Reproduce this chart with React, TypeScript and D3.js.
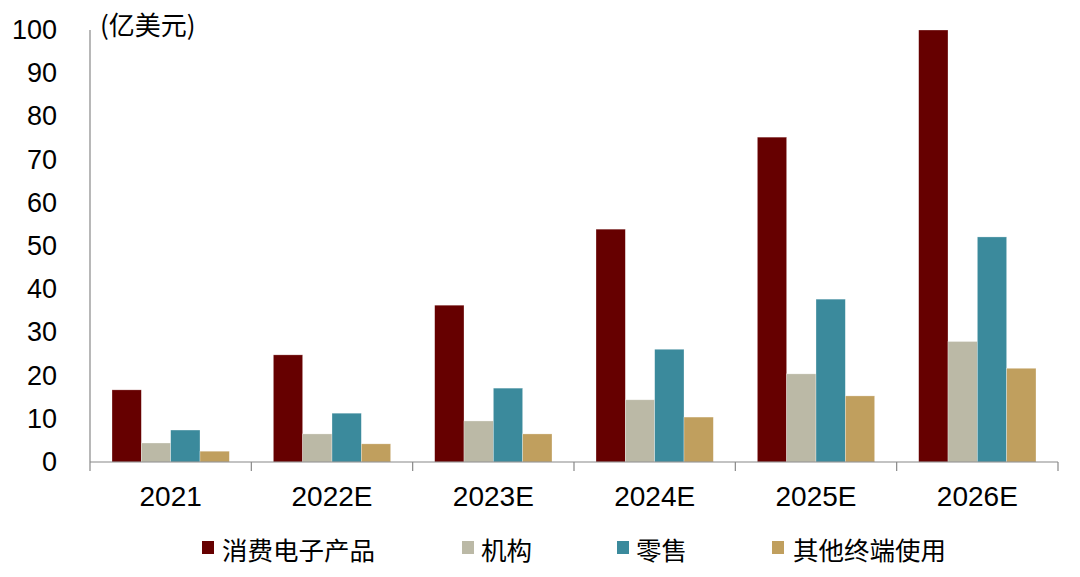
import React from "react";
import * as d3 from "d3";

const categories = ["2021", "2022E", "2023E", "2024E", "2025E", "2026E"];
const seriesNames = ["消费电子产品", "机构", "零售", "其他终端使用"];
const consumerElectronics = [16.7, 24.8, 36.3, 53.9, 75.2, 100];
const institutional = [4.4, 6.5, 9.5, 14.4, 20.4, 27.9];
const retail = [7.4, 11.3, 17.1, 26.1, 37.7, 52.1];
const otherEndUse = [2.5, 4.2, 6.5, 10.4, 15.3, 21.7];
const seriesValues = [consumerElectronics, institutional, retail, otherEndUse];
const colors = ["#660000", "#BBB9A6", "#3B8A9C", "#C09F5E"];
const yTicks = [0, 10, 20, 30, 40, 50, 60, 70, 80, 90, 100];
const unitLabel = "(亿美元)";

const W = 1080;
const H = 577;
const left = 90;
const right = 1058;
const top = 30;
const bottom = 462;
const FONT = "'Liberation Sans', Arial, 'Noto Sans CJK SC', sans-serif";
const CJK = "'Noto Sans CJK SC', 'Liberation Sans', sans-serif";

export default function App() {
  const x0 = d3.scaleBand<string>().domain(categories).range([left, right]).paddingInner(0).paddingOuter(0);
  const x1 = d3
    .scaleBand<string>()
    .domain(seriesNames)
    .range([0, x0.bandwidth()])
    .paddingInner(0)
    .paddingOuter(0.75);
  const y = d3.scaleLinear().domain([0, 100]).range([bottom, top]);

  const boundaries = categories.map((c) => x0(c) as number).concat([right]);
  const legendSquareX = [202, 462, 617, 772];
  const legendTextX = [222, 481, 636, 793];

  return (
    <svg
      width={W}
      height={H}
      style={{ position: "absolute", left: 0, top: 0, background: "#fff" }}
    >
      {/* bars */}
      {seriesNames.map((s, si) =>
        categories.map((c, ci) => {
          const v = seriesValues[si][ci];
          return (
            <rect
              key={s + c}
              x={(x0(c) as number) + (x1(s) as number)}
              y={y(v)}
              width={x1.bandwidth()}
              height={y(0) - y(v)}
              fill={colors[si]}
              stroke="#ffffff"
              strokeOpacity={0.5}
              strokeWidth={0.6}
            />
          );
        })
      )}
      {/* y axis */}
      <line x1={left} x2={left} y1={top} y2={bottom} stroke="#888" strokeWidth={1.2} />
      {yTicks.map((t) => (
        <text
          key={t}
          x={57}
          y={y(t)}
          textAnchor="end"
          dominantBaseline="central"
          fontFamily={FONT}
          fontSize={27}
          fill="#000"
        >
          {t}
        </text>
      ))}
      {/* x axis */}
      <line x1={left} x2={right} y1={bottom} y2={bottom} stroke="#888" strokeWidth={1.2} />
      {boundaries.map((b, i) => (
        <line key={i} x1={b} x2={b} y1={bottom} y2={bottom + 9} stroke="#888" strokeWidth={1.2} />
      ))}
      {categories.map((c) => (
        <text
          key={c}
          x={(x0(c) as number) + x0.bandwidth() / 2}
          y={496}
          textAnchor="middle"
          dominantBaseline="central"
          fontFamily={FONT}
          fontSize={28}
          fill="#000"
        >
          {c}
        </text>
      ))}
      {/* unit */}
      <text x={100} y={23} dominantBaseline="central" fontFamily={CJK} fontSize={26} fill="#000">
        {unitLabel}
      </text>
      {/* legend */}
      {seriesNames.map((s, i) => (
        <g key={s}>
          <rect x={legendSquareX[i]} y={541} width={12} height={13} fill={colors[i]} />
          <text
            x={legendTextX[i]}
            y={548}
            dominantBaseline="central"
            fontFamily={CJK}
            fontSize={25.5}
            fill="#000"
          >
            {s}
          </text>
        </g>
      ))}
    </svg>
  );
}
